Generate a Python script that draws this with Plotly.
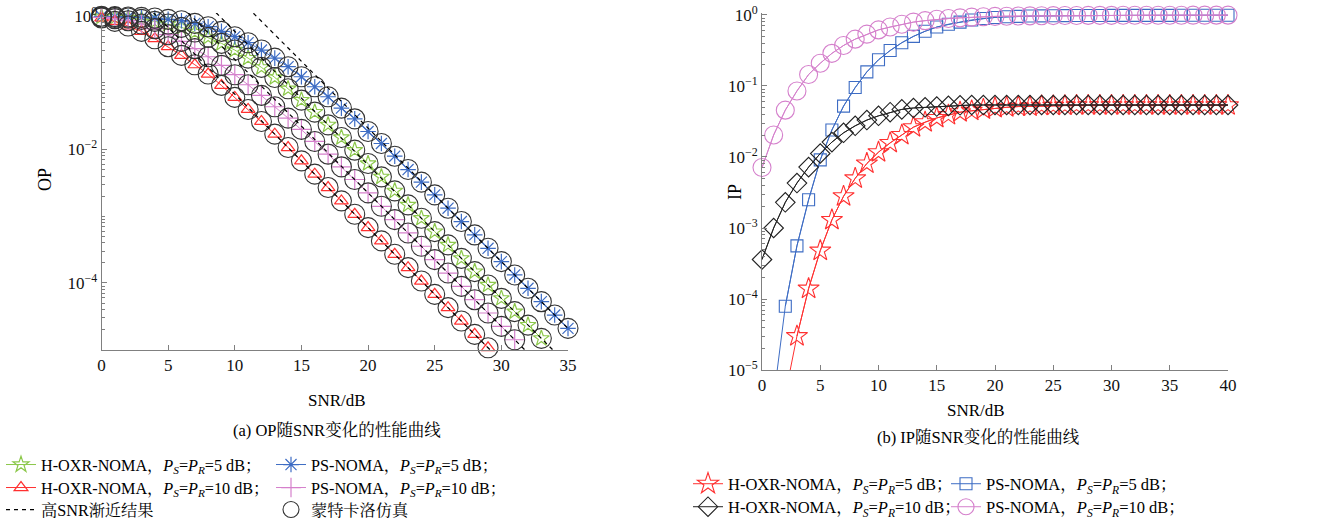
import plotly.graph_objects as go

# ---------------- data ----------------
SNR_OP = list(range(0, 36))
OP_HOXR_5 = [0.977, 0.955, 0.933, 0.891, 0.832, 0.759, 0.676, 0.575, 0.479, 0.389,
             0.309, 0.234, 0.170, 0.120, 0.0813, 0.0550, 0.0363, 0.0234, 0.0151, 9.77e-3,
             6.17e-3, 3.89e-3, 2.40e-3, 1.48e-3, 9.33e-4, 5.89e-4, 3.72e-4, 2.34e-4, 1.48e-4, 9.33e-5,
             5.89e-5, 3.72e-5, 2.34e-5, 1.48e-5]
OP_PS_5 = [0.990, 0.980, 0.966, 0.955, 0.933, 0.891, 0.851, 0.776, 0.692, 0.589,
           0.490, 0.398, 0.309, 0.234, 0.174, 0.123, 0.0871, 0.0617, 0.0417, 0.0288,
           0.0186, 0.0123, 7.94e-3, 5.01e-3, 3.24e-3, 2.09e-3, 1.32e-3, 8.32e-4, 5.25e-4, 3.31e-4,
           2.09e-4, 1.32e-4, 8.32e-5, 5.25e-5, 3.31e-5, 2.09e-5]
OP_HOXR_10 = [0.933, 0.832, 0.708, 0.589, 0.457, 0.347, 0.257, 0.186, 0.135, 0.0912,
              0.0603, 0.0398, 0.0263, 0.0170, 0.0107, 6.76e-3, 4.27e-3, 2.69e-3, 1.70e-3, 1.07e-3,
              6.76e-4, 4.27e-4, 2.69e-4, 1.70e-4, 1.07e-4, 6.76e-5, 4.27e-5, 2.69e-5, 1.70e-5, 1.07e-5]
OP_PS_10 = [0.955, 0.912, 0.851, 0.759, 0.646, 0.525, 0.417, 0.324, 0.245, 0.182,
            0.132, 0.0933, 0.0646, 0.0437, 0.0295, 0.0200, 0.0132, 8.51e-3, 5.50e-3, 3.55e-3,
            2.24e-3, 1.41e-3, 8.91e-4, 5.62e-4, 3.55e-4, 2.24e-4, 1.41e-4, 8.91e-5, 5.62e-5, 3.55e-5,
            2.24e-5, 1.41e-5]
# high-SNR asymptotes (straight lines on log scale): end points
ASYM_HOXR_5_X, ASYM_HOXR_5_Y = [8.6, 35], [1.12, 5.89e-6]
ASYM_PS_5_X, ASYM_PS_5_Y = [11.4, 35], [1.10, 2.09e-5]
ASYM_HOXR_10_X, ASYM_HOXR_10_Y = [3.9, 35], [1.12, 6.76e-7]
ASYM_PS_10_X, ASYM_PS_10_Y = [6.5, 35], [1.12, 2.24e-6]

SNR_IP = list(range(0, 41))
IP_HOXR_5 = [None, None, 4.5e-6, 3.0e-5, 1.4e-4, 4.8e-4, 1.3e-3, 2.8e-3, 5.0e-3, 8.1e-3,
             0.0117, 0.0158, 0.0204, 0.0263, 0.0309, 0.0355, 0.0389, 0.0427, 0.0447, 0.0468,
             0.0490, 0.0501, 0.0513, 0.0513, 0.0525, 0.0525, 0.0530, 0.0535, 0.0535, 0.0535,
             0.0535, 0.0535, 0.0535, 0.0535, 0.0535, 0.0535, 0.0535, 0.0535, 0.0535, 0.0535, 0.0535]
IP_PS_5 = [None, 4.0e-6, 7.9e-5, 5.6e-4, 2.5e-3, 9.1e-3, 0.024, 0.052, 0.095, 0.158,
           0.234, 0.316, 0.407, 0.50, 0.59, 0.676, 0.741, 0.794, 0.851, 0.891,
           0.923, 0.944, 0.955, 0.966, 0.972, 0.977, 0.980, 0.982, 0.984, 0.985,
           0.986, 0.987, 0.988, 0.988, 0.989, 0.989, 0.990, 0.990, 0.990, 0.991, 0.991]
IP_HOXR_10 = [3.6e-4, 1.0e-3, 2.3e-3, 4.3e-3, 7.2e-3, 0.0112, 0.0162, 0.0219, 0.0275, 0.0331,
              0.0380, 0.0427, 0.0468, 0.0490, 0.0501, 0.0513, 0.0525, 0.0535, 0.0540, 0.0540,
              0.0540, 0.0540, 0.0540, 0.0540, 0.0540, 0.0540, 0.0540, 0.0540, 0.0540, 0.0540,
              0.0540, 0.0540, 0.0540, 0.0540, 0.0540, 0.0540, 0.0540, 0.0540, 0.0540, 0.0540, 0.0540]
IP_PS_10 = [7.1e-3, 0.0204, 0.0457, 0.0851, 0.145, 0.209, 0.288, 0.372, 0.457, 0.537,
            0.617, 0.676, 0.741, 0.794, 0.832, 0.871, 0.891, 0.912, 0.933, 0.944,
            0.955, 0.962, 0.966, 0.972, 0.977, 0.980, 0.983, 0.985, 0.987, 0.988,
            0.989, 0.990, 0.991, 0.992, 0.992, 0.993, 0.993, 0.994, 0.994, 0.995, 0.995]

OP_XTICKS = [0, 5, 10, 15, 20, 25, 30, 35]
OP_YTICKS = [1, 1e-2, 1e-4]
OP_YTICKTEXT = ["10<sup>0</sup>", "10<sup>−2</sup>", "10<sup>−4</sup>"]
IP_XTICKS = [0, 5, 10, 15, 20, 25, 30, 35, 40]
IP_YTICKS = [1, 1e-1, 1e-2, 1e-3, 1e-4, 1e-5]
IP_YTICKTEXT = ["10<sup>0</sup>", "10<sup>−1</sup>", "10<sup>−2</sup>",
                "10<sup>−3</sup>", "10<sup>−4</sup>", "10<sup>−5</sup>"]

PSPR = "<i>P</i><sub><i>S</i></sub>=<i>P</i><sub><i>R</i></sub>"
LBL_HOXR_5 = "H-OXR-NOMA，" + PSPR + "=5 dB；"
LBL_PS_5 = "PS-NOMA，" + PSPR + "=5 dB；"
LBL_HOXR_10 = "H-OXR-NOMA，" + PSPR + "=10 dB；"
LBL_PS_10 = "PS-NOMA，" + PSPR + "=10 dB；"
LBL_ASYM = "高SNR渐近结果"
LBL_MC = "蒙特卡洛仿真"

# ---------------- styling ----------------
W, H = 1327, 523
FONT = "Liberation Serif, Times New Roman, Noto Serif CJK SC, Noto Sans CJK SC, serif"
GREEN, BLUE, RED, PINK = "#8cc84b", "#3d6cc4", "#ff3030", "#d580cc"
AXC = "#808080"


def px(x):
    return x / W


def py(y):
    return 1 - y / H


fig = go.Figure()

# ---- left: OP ----
op_series = [
    (OP_HOXR_5, GREEN, "star-open", 12, LBL_HOXR_5, "legend"),
    (OP_PS_5, BLUE, "asterisk-open", 13, LBL_PS_5, "legend"),
    (OP_HOXR_10, RED, "triangle-up-open", 12, LBL_HOXR_10, "legend2"),
    (OP_PS_10, PINK, "cross-thin-open", 14, LBL_PS_10, "legend2"),
]
for ys, col, sym, sz, lbl, lg in op_series:
    fig.add_trace(go.Scatter(
        x=SNR_OP[:len(ys)], y=ys, mode="lines+markers", name=lbl, legend=lg,
        line=dict(color=col, width=1),
        marker=dict(symbol=sym, size=sz, color=col, line=dict(color=col, width=1.2)),
        cliponaxis=False, xaxis="x", yaxis="y"))
for i, (ys, col, sym, sz, lbl, lg) in enumerate(op_series):
    fig.add_trace(go.Scatter(
        x=SNR_OP[:len(ys)], y=ys, mode="markers", name=LBL_MC, legend="legend3",
        showlegend=(i == 0), legendrank=2,
        marker=dict(symbol="circle-open", size=20, color="#333333", line=dict(color="#333333", width=1.1)),
        cliponaxis=False, xaxis="x", yaxis="y"))
asyms = [(ASYM_HOXR_5_X, ASYM_HOXR_5_Y), (ASYM_PS_5_X, ASYM_PS_5_Y),
         (ASYM_HOXR_10_X, ASYM_HOXR_10_Y), (ASYM_PS_10_X, ASYM_PS_10_Y)]
for i, (ax_, ay_) in enumerate(asyms):
    fig.add_trace(go.Scatter(
        x=ax_, y=ay_, mode="lines", name=LBL_ASYM, legend="legend3",
        showlegend=(i == 0), legendrank=1,
        line=dict(color="black", width=1.2, dash="4px,4px"),
        xaxis="x", yaxis="y"))

# ---- right: IP ----
YMIN_IP = 1e-5
ip_series = [
    (IP_HOXR_5, RED, "star-open", 16, LBL_HOXR_5, "legend4"),
    (IP_PS_5, BLUE, "square-open", 12, LBL_PS_5, "legend4"),
    (IP_HOXR_10, "#222222", "diamond-open", 15, LBL_HOXR_10, "legend5"),
    (IP_PS_10, PINK, "circle-open", 18, LBL_PS_10, "legend5"),
]
for ys, col, sym, sz, lbl, lg in ip_series:
    # full curve (clipped by the axes)
    fig.add_trace(go.Scatter(
        x=SNR_IP, y=ys, mode="lines", showlegend=False,
        line=dict(color=col, width=1), xaxis="x2", yaxis="y2"))
    xv = [x for x, v in zip(SNR_IP, ys) if v is not None and v >= YMIN_IP]
    yv = [v for v in ys if v is not None and v >= YMIN_IP]
    fig.add_trace(go.Scatter(
        x=xv, y=yv, mode="lines+markers", name=lbl, legend=lg,
        line=dict(color=col, width=1),
        marker=dict(symbol=sym, size=sz, color=col, line=dict(color=col, width=1.1)),
        cliponaxis=False, xaxis="x2", yaxis="y2"))

axis_common = dict(showline=True, linecolor=AXC, linewidth=1, ticks="inside", ticklen=5,
                   tickcolor=AXC, showgrid=False, zeroline=False, automargin=False,
                   ticklabeloverflow="allow",
                   tickfont=dict(family=FONT, size=17, color="#111111"))

op_minor = [k * 10.0 ** e for e in range(-5, 0) for k in range(2, 10)] + [1e-1, 1e-3, 1e-5]
op_minor = [v for v in op_minor if v >= 1e-5]
ip_minor = [k * 10.0 ** e for e in range(-5, 0) for k in range(2, 10)]

fig.update_layout(
    width=W, height=H, margin=dict(l=0, r=0, t=0, b=0, autoexpand=False),
    paper_bgcolor="white", plot_bgcolor="white",
    font=dict(family=FONT, size=17, color="black"),
    xaxis=dict(domain=[px(101.5), px(568)], range=[0, 35], tickvals=OP_XTICKS,
               anchor="y", **axis_common),
    yaxis=dict(domain=[py(350), py(13)], type="log", range=[-5.004, 0.045],
               tickvals=OP_YTICKS, ticktext=OP_YTICKTEXT, anchor="x",
               minor=dict(tickvals=op_minor, ticks="inside", ticklen=3, tickcolor=AXC, showgrid=False),
               **axis_common),
    xaxis2=dict(domain=[px(762), px(1228)], range=[0, 40], tickvals=IP_XTICKS,
                anchor="y2", **axis_common),
    yaxis2=dict(domain=[py(370), py(13)], type="log", range=[-5, 0.028],
                tickvals=IP_YTICKS, ticktext=IP_YTICKTEXT, anchor="x2",
                minor=dict(tickvals=ip_minor, ticks="inside", ticklen=3, tickcolor=AXC, showgrid=False),
                **axis_common),
    showlegend=True,
)


def leg(x, y, ew, size):
    return dict(orientation="h", x=px(x), y=py(y), xanchor="left", yanchor="middle",
                entrywidth=ew, entrywidthmode="pixels", bgcolor="rgba(0,0,0,0)",
                font=dict(family=FONT, size=size, color="black"), itemwidth=30,
                tracegroupgap=0)


fig.update_layout(
    legend=leg(1, 465, 225, 16.2),
    legend2=leg(1, 488, 225, 16.2),
    legend3=leg(1, 510, 225, 16.2),
    legend4=leg(688, 484, 213, 16.5),
    legend5=leg(688, 507, 213, 16.5),
)

annots = [
    dict(text="OP", x=px(45), y=py(180), textangle=-90, size=18),
    dict(text="IP", x=px(735), y=py(192), textangle=-90, size=18),
    dict(text="SNR/dB", x=px(337), y=py(400), textangle=0, size=17),
    dict(text="SNR/dB", x=px(976), y=py(410), textangle=0, size=17),
    dict(text="(a) OP随SNR变化的性能曲线", x=px(337), y=py(430), textangle=0, size=16.5),
    dict(text="(b) IP随SNR变化的性能曲线", x=px(978), y=py(437), textangle=0, size=16.5),
]
for a in annots:
    fig.add_annotation(text=a["text"], x=a["x"], y=a["y"], xref="paper", yref="paper",
                       xanchor="center", yanchor="middle", showarrow=False, textangle=a["textangle"],
                       font=dict(family=FONT, size=a["size"], color="black"))

# remove the default page margin so the figure fills the window exactly
fig.write_html("out.html", config={"displayModeBar": False},
               post_script="document.body.style.margin='0px';")
